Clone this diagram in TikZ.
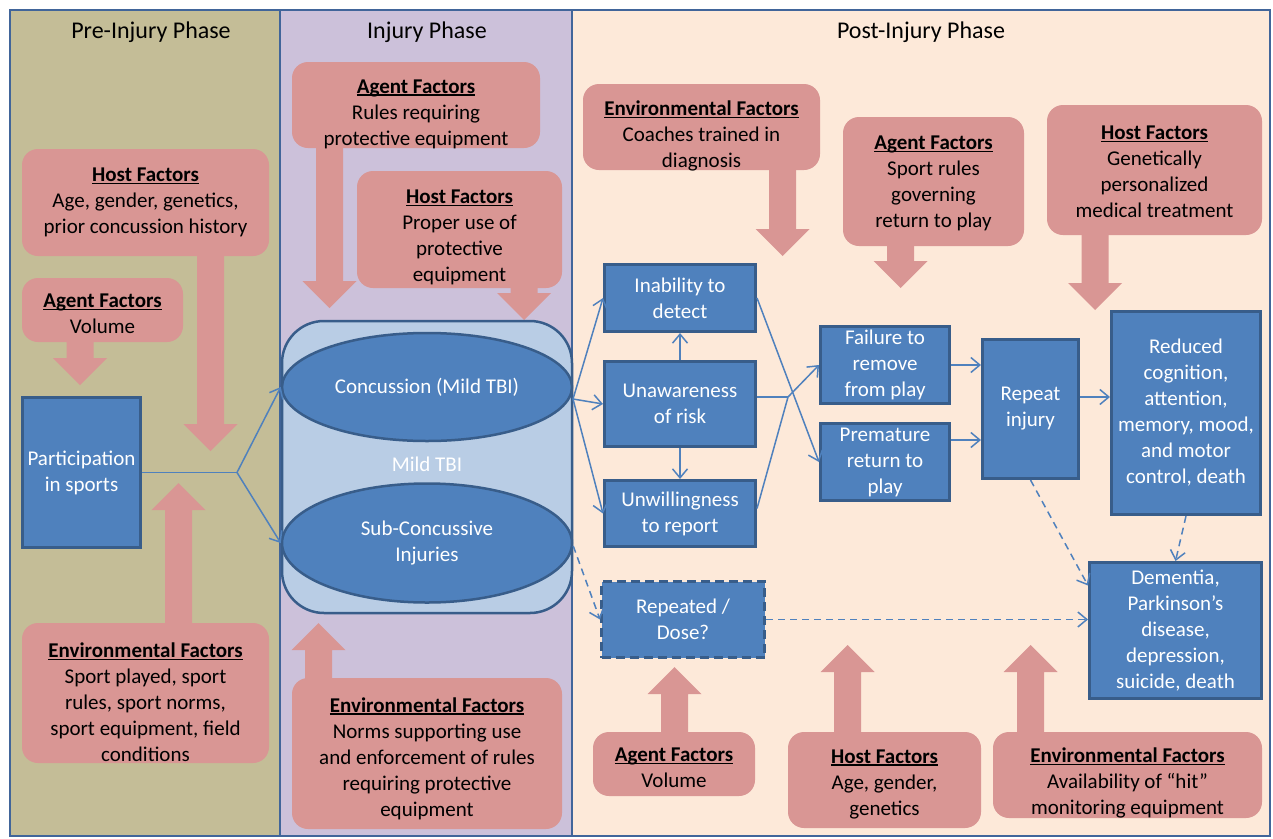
\documentclass[tikz,border=0pt]{standalone}
\usepackage{fontspec}
\setmainfont{Carlito}
\usetikzlibrary{shapes.geometric,arrows.meta}
\definecolor{olivep}{HTML}{C4BD97}
\definecolor{lavp}{HTML}{CCC1DA}
\definecolor{peachp}{HTML}{FDE9D9}
\definecolor{rose}{HTML}{D99694}
\definecolor{bfill}{HTML}{4F81BD}
\definecolor{bdraw}{HTML}{385D8A}
\definecolor{lblue}{HTML}{B9CDE5}
\definecolor{pborder}{HTML}{41659A}
\newcommand\fhead[1]{\setbox0\hbox{\textbf{#1}}\rlap{\rule[-2.6pt]{\wd0}{1.3pt}}\box0}
\newcommand\fatarrow[3]{\fill[rose] ({#1-13.5},#2) -- ({#1+13.5},#2) -- ({#1+13.5},{#3+27*sign(#2-#3)}) -- ({#1+27},{#3+27*sign(#2-#3)}) -- (#1,#3) -- ({#1-27},{#3+27*sign(#2-#3)}) -- ({#1-13.5},{#3+27*sign(#2-#3)}) -- cycle;}
\tikzset{
 txt/.style={font=\fontsize{21}{26}\selectfont, align=center, inner sep=0pt},
 ptext/.style={txt, text=black},
 pinkbox/.style={fill=rose, rounded corners=16pt, inner sep=0pt},
 bluebox/.style={txt, fill=bfill, draw=bdraw, line width=3pt, text=white},
 dosebox/.style={bluebox, dash pattern=on 9pt off 5pt},
 panelbox/.style={draw=pborder, line width=2.5pt},
 cline/.style={draw=bfill, line width=1.5pt},
 conn/.style={cline, -{Straight Barb[length=9pt,width=15pt]}},
 dconn/.style={conn, dash pattern=on 7pt off 5pt},
 phasetitle/.style={font=\fontsize{24}{28}\selectfont, inner sep=0pt},
}
% name, width, height, centre, text shift down, text
\newcommand\pbox[6]{\node[pinkbox, minimum width=#2pt, minimum height=#3pt, label={[ptext,yshift=-#5pt]center:{#6}}] (#1) at #4 {};}
\begin{document}
\begin{tikzpicture}[x=1pt,y=-1pt]
\useasboundingbox (0,0) rectangle (1273,838);
\fill[white] (0,0) rectangle (1273,838);
% panels
\fill[olivep] (10,10) rectangle (280,836);
\fill[lavp] (280,10) rectangle (572,836);
\fill[peachp] (572,10) rectangle (1270,836);
\draw[panelbox] (10,10) rectangle (280,836);
\draw[panelbox] (280,10) rectangle (572,836);
\draw[panelbox] (572,10) rectangle (1270,836);
\node[phasetitle] (t1) at (151,32) {Pre-Injury Phase};
\node[phasetitle] (t2) at (427,32) {Injury Phase};
\node[phasetitle] (t3) at (921,32) {Post-Injury Phase};
% fat arrows
\fatarrow{210.5}{250}{451}
\fatarrow{80}{336}{385}
\fatarrow{329.5}{140}{308}
\fatarrow{524}{280}{320}
\fatarrow{782.5}{160}{256}
\fatarrow{900.5}{240}{288}
\fatarrow{1095}{228}{310}
\fatarrow{178.5}{630}{483}
\fatarrow{318.5}{685}{623}
\fatarrow{674.5}{740}{667}
\fatarrow{847.5}{740}{645}
\fatarrow{1030.5}{740}{645}
% pink boxes
\pbox{prehost}{247}{107}{(145.5,202.5)}{0}{\fhead{Host Factors}\\Age, gender, genetics,\\prior concussion history}
\pbox{preagent}{161}{64}{(102.5,310)}{4}{\fhead{Agent Factors}\\Volume}
\pbox{preenv}{247}{140}{(145.5,693)}{9}{\fhead{Environmental Factors}\\Sport played, sport\\rules, sport norms,\\sport equipment, field\\conditions}
\pbox{injagent}{248}{86}{(416,105)}{9}{\fhead{Agent Factors}\\Rules requiring\\protective equipment}
\pbox{injhost}{205}{117}{(459.5,229.5)}{8}{\fhead{Host Factors}\\Proper use of\\protective\\equipment}
\pbox{injenv}{270}{151}{(427,753.5)}{5}{\fhead{Environmental Factors}\\Norms supporting use\\and enforcement of rules\\requiring protective\\equipment}
\pbox{postenv}{237}{86}{(701.5,127)}{9}{\fhead{Environmental Factors}\\Coaches trained in\\diagnosis}
\pbox{postagent}{181}{129}{(933.5,181.5)}{2}{\fhead{Agent Factors}\\Sport rules\\governing\\return to play}
\pbox{posthost}{215}{130}{(1154.5,170)}{2}{\fhead{Host Factors}\\Genetically\\personalized\\medical treatment}
\pbox{bagent}{162}{64}{(674,764)}{4}{\fhead{Agent Factors}\\Volume}
\pbox{bhost}{193}{96}{(884.5,780)}{4}{\fhead{Host Factors}\\Age, gender,\\genetics}
\pbox{benv}{269}{86}{(1127.5,775)}{8}{\fhead{Environmental Factors}\\Availability of “hit”\\monitoring equipment}
% injury group
\node[fill=lblue, draw=bdraw, line width=2.5pt, rounded corners=42pt, minimum width=290pt, minimum height=292pt] (mtbi) at (427,467) {};
\node[txt, ellipse, fill=bfill, draw=bdraw, line width=2.5pt, minimum width=290pt, minimum height=108pt, text=white] (conc) at (427,387) {Concussion (Mild TBI)};
\node[txt, ellipse, fill=bfill, draw=bdraw, line width=2.5pt, minimum width=290pt, minimum height=119pt, text=white] (sub) at (427,543) {Sub-Concussive\\Injuries};
\node[txt, text=white] (mtbilabel) at (427,464) {Mild TBI};
% blue boxes
\node[bluebox, minimum width=118pt, minimum height=150pt] (part) at (81.5,472.5) {Participation\\in sports};
\node[bluebox, minimum width=151pt, minimum height=67pt] (inab) at (680,298) {Inability to\\detect};
\node[bluebox, minimum width=151pt, minimum height=85pt] (unaw) at (680,404) {Unawareness\\of risk};
\node[bluebox, minimum width=151pt, minimum height=66pt] (unwill) at (680,513.5) {Unwillingness\\to report};
\node[bluebox, minimum width=129pt, minimum height=77pt] (fail) at (885,365) {Failure to\\remove\\from play};
\node[bluebox, minimum width=129pt, minimum height=77pt] (prem) at (885,462) {Premature\\return to\\play};
\node[bluebox, minimum width=96pt, minimum height=139pt] (rinj) at (1030.5,409) {Repeat\\injury};
\node[bluebox, minimum width=149pt, minimum height=203pt] (red) at (1186,413) {Reduced\\cognition,\\attention,\\memory, mood,\\and motor\\control, death};
\node[bluebox, minimum width=172pt, minimum height=136pt] (dem) at (1175.5,630.5) {Dementia,\\Parkinson’s\\disease,\\depression,\\suicide, death};
\node[dosebox, minimum width=163pt, minimum height=76pt] (dose) at (683,619.5) {Repeated /\\Dose?};
% connectors
\coordinate (j1) at (237,472.5);
\draw[cline] (part.east) -- (j1);
\draw[conn] (j1) -- (conc.west);
\draw[conn] (j1) -- (sub.west);
\coordinate (cc) at (573,399);
\draw[conn] (cc) -- (inab.west);
\draw[conn] (cc) -- (unaw.west);
\draw[conn] (cc) -- (unwill.west);
\draw[conn] (unaw.north) -- (inab.south);
\draw[conn] (unaw.south) -- (unwill.north);
\draw[conn] (inab.east) -- (prem.west);
\coordinate (j2) at (788,397);
\draw[cline] ([yshift=7pt]unaw.east) -- (j2);
\draw[cline] ([yshift=5pt]unwill.east) -- (j2);
\draw[conn] (j2) -- (fail.west);
\draw[conn] (fail.east) -- (fail.east -| rinj.west);
\coordinate (pe) at ([yshift=22pt]prem.east);
\draw[conn] (pe) -- (pe -| rinj.west);
\coordinate (re) at ([yshift=12pt]rinj.east);
\draw[conn] (re) -- (re -| red.west);
\draw[dconn] (rinj.south) -- ([yshift=45pt]dem.west);
\draw[dconn] (red.south) -- (dem.north);
\draw[dconn] ([yshift=-3pt]sub.east) -- (dose.west);
\draw[dconn] (dose.east) -- (dose.east -| dem.west);
\end{tikzpicture}
\end{document}
